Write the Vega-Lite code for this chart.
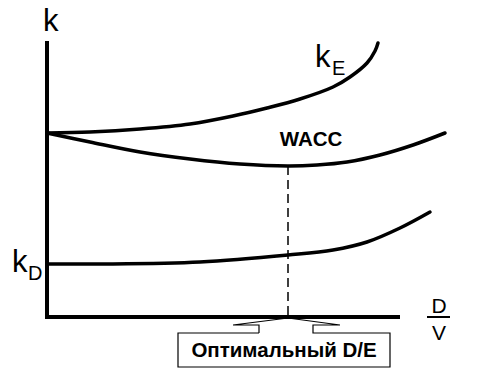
{
  "$schema": "https://vega.github.io/schema/vega-lite/v6.json",
  "width": 495,
  "height": 370,
  "padding": 0,
  "autosize": {"type": "fit", "contains": "padding"},
  "background": "white",
  "config": {"view": {"stroke": null}, "axis": {"disable": true}, "legend": {"disable": true}},
  "datasets": {
    "curves": [
      {"s": "kE", "x": 0, "y": 184}, {"s": "kE", "x": 43, "y": 185}, {"s": "kE", "x": 93, "y": 188}, {"s": "kE", "x": 143, "y": 193}, {"s": "kE", "x": 186, "y": 201}, {"s": "kE", "x": 220, "y": 209}, {"s": "kE", "x": 253, "y": 218}, {"s": "kE", "x": 286, "y": 230}, {"s": "kE", "x": 303, "y": 240}, {"s": "kE", "x": 320, "y": 254}, {"s": "kE", "x": 328, "y": 266}, {"s": "kE", "x": 331, "y": 274},
      {"s": "WACC", "x": 0, "y": 184}, {"s": "WACC", "x": 43, "y": 175}, {"s": "WACC", "x": 93, "y": 165}, {"s": "WACC", "x": 143, "y": 158}, {"s": "WACC", "x": 193, "y": 153}, {"s": "WACC", "x": 241, "y": 151}, {"s": "WACC", "x": 270, "y": 152}, {"s": "WACC", "x": 300, "y": 155}, {"s": "WACC", "x": 333, "y": 162}, {"s": "WACC", "x": 366, "y": 172}, {"s": "WACC", "x": 398, "y": 184},
      {"s": "kD", "x": 1, "y": 53}, {"s": "kD", "x": 53, "y": 53}, {"s": "kD", "x": 153, "y": 55}, {"s": "kD", "x": 241, "y": 62}, {"s": "kD", "x": 286, "y": 67}, {"s": "kD", "x": 320, "y": 75}, {"s": "kD", "x": 353, "y": 89}, {"s": "kD", "x": 383, "y": 105}
    ],
    "axes": [
      {"x": 0, "y": -2, "x2": 0, "y2": 276},
      {"x": -1, "y": 0, "x2": 353, "y2": 0}
    ],
    "frac": [{"x": 380, "y": 0, "x2": 403, "y2": 0}],
    "optimum": [{"x": 241, "y": 151, "x2": 241, "y2": 0}],
    "callout": [
      {"o": 1, "x": 212, "y": -16}, {"o": 2, "x": 212, "y": -8}, {"o": 3, "x": 186, "y": -8}, {"o": 4, "x": 241, "y": -1}, {"o": 5, "x": 293, "y": -8}, {"o": 6, "x": 266, "y": -8}, {"o": 7, "x": 266, "y": -16}, {"o": 8, "x": 343, "y": -16}, {"o": 9, "x": 343, "y": -50}, {"o": 10, "x": 131, "y": -50}, {"o": 11, "x": 131, "y": -16}, {"o": 12, "x": 212, "y": -16}
    ],
    "bigLabels": [
      {"t": "k", "x": -4, "y": 286},
      {"t": "k", "x": 268, "y": 250},
      {"t": "k", "x": -35, "y": 45}
    ],
    "subLabels": [
      {"t": "E", "x": 285, "y": 242},
      {"t": "D", "x": -19, "y": 37}
    ],
    "fracLabels": [
      {"t": "D", "x": 392, "y": 4},
      {"t": "V", "x": 392, "y": -23}
    ],
    "wacc": [{"t": "WACC", "x": 264, "y": 171}],
    "box": [{"t": "Оптимальный D/E", "x": 237, "y": -40}]
  },
  "layer": [
    {
      "data": {"name": "axes"},
      "mark": {"type": "rule", "strokeWidth": 4, "color": "black"},
      "encoding": {
        "x": {"field": "x", "type": "quantitative", "scale": {"domain": [-47, 448], "nice": false, "zero": false}},
        "y": {"field": "y", "type": "quantitative", "scale": {"domain": [-53, 317], "nice": false, "zero": false}},
        "x2": {"field": "x2"},
        "y2": {"field": "y2"}
      }
    },
    {
      "data": {"name": "frac"},
      "mark": {"type": "rule", "strokeWidth": 2, "color": "black"},
      "encoding": {
        "x": {"field": "x", "type": "quantitative", "scale": {"domain": [-47, 448], "nice": false, "zero": false}},
        "y": {"field": "y", "type": "quantitative", "scale": {"domain": [-53, 317], "nice": false, "zero": false}},
        "x2": {"field": "x2"},
        "y2": {"field": "y2"}
      }
    },
    {
      "data": {"name": "optimum"},
      "mark": {"type": "rule", "strokeWidth": 1.5, "color": "black", "strokeDash": [9, 5]},
      "encoding": {
        "x": {"field": "x", "type": "quantitative", "scale": {"domain": [-47, 448], "nice": false, "zero": false}},
        "y": {"field": "y", "type": "quantitative", "scale": {"domain": [-53, 317], "nice": false, "zero": false}},
        "x2": {"field": "x2"},
        "y2": {"field": "y2"}
      }
    },
    {
      "data": {"name": "curves"},
      "mark": {"type": "line", "strokeWidth": 3.5, "color": "black", "interpolate": "catmull-rom", "strokeCap": "round"},
      "encoding": {
        "x": {"field": "x", "type": "quantitative", "scale": {"domain": [-47, 448], "nice": false, "zero": false}},
        "y": {"field": "y", "type": "quantitative", "scale": {"domain": [-53, 317], "nice": false, "zero": false}},
        "detail": {"field": "s", "type": "nominal"}
      }
    },
    {
      "data": {"name": "callout"},
      "mark": {"type": "line", "strokeWidth": 1.2, "color": "black", "interpolate": "linear"},
      "encoding": {
        "x": {"field": "x", "type": "quantitative", "scale": {"domain": [-47, 448], "nice": false, "zero": false}},
        "y": {"field": "y", "type": "quantitative", "scale": {"domain": [-53, 317], "nice": false, "zero": false}},
        "order": {"field": "o", "type": "quantitative"}
      }
    },
    {
      "data": {"name": "bigLabels"},
      "mark": {"type": "text", "font": "Liberation Sans", "fontSize": 31, "align": "left", "baseline": "alphabetic", "color": "black"},
      "encoding": {
        "x": {"field": "x", "type": "quantitative", "scale": {"domain": [-47, 448], "nice": false, "zero": false}},
        "y": {"field": "y", "type": "quantitative", "scale": {"domain": [-53, 317], "nice": false, "zero": false}},
        "text": {"field": "t"}
      }
    },
    {
      "data": {"name": "subLabels"},
      "mark": {"type": "text", "font": "Liberation Sans", "fontSize": 20, "align": "left", "baseline": "alphabetic", "color": "black"},
      "encoding": {
        "x": {"field": "x", "type": "quantitative", "scale": {"domain": [-47, 448], "nice": false, "zero": false}},
        "y": {"field": "y", "type": "quantitative", "scale": {"domain": [-53, 317], "nice": false, "zero": false}},
        "text": {"field": "t"}
      }
    },
    {
      "data": {"name": "fracLabels"},
      "mark": {"type": "text", "font": "Liberation Sans", "fontSize": 21, "align": "center", "baseline": "alphabetic", "color": "black"},
      "encoding": {
        "x": {"field": "x", "type": "quantitative", "scale": {"domain": [-47, 448], "nice": false, "zero": false}},
        "y": {"field": "y", "type": "quantitative", "scale": {"domain": [-53, 317], "nice": false, "zero": false}},
        "text": {"field": "t"}
      }
    },
    {
      "data": {"name": "wacc"},
      "mark": {"type": "text", "font": "Liberation Sans", "fontSize": 20.5, "fontWeight": "bold", "align": "center", "baseline": "alphabetic", "color": "black"},
      "encoding": {
        "x": {"field": "x", "type": "quantitative", "scale": {"domain": [-47, 448], "nice": false, "zero": false}},
        "y": {"field": "y", "type": "quantitative", "scale": {"domain": [-53, 317], "nice": false, "zero": false}},
        "text": {"field": "t"}
      }
    },
    {
      "data": {"name": "box"},
      "mark": {"type": "text", "font": "Liberation Sans", "fontSize": 20.5, "fontWeight": "bold", "align": "center", "baseline": "alphabetic", "color": "black"},
      "encoding": {
        "x": {"field": "x", "type": "quantitative", "scale": {"domain": [-47, 448], "nice": false, "zero": false}},
        "y": {"field": "y", "type": "quantitative", "scale": {"domain": [-53, 317], "nice": false, "zero": false}},
        "text": {"field": "t"}
      }
    }
  ]
}
